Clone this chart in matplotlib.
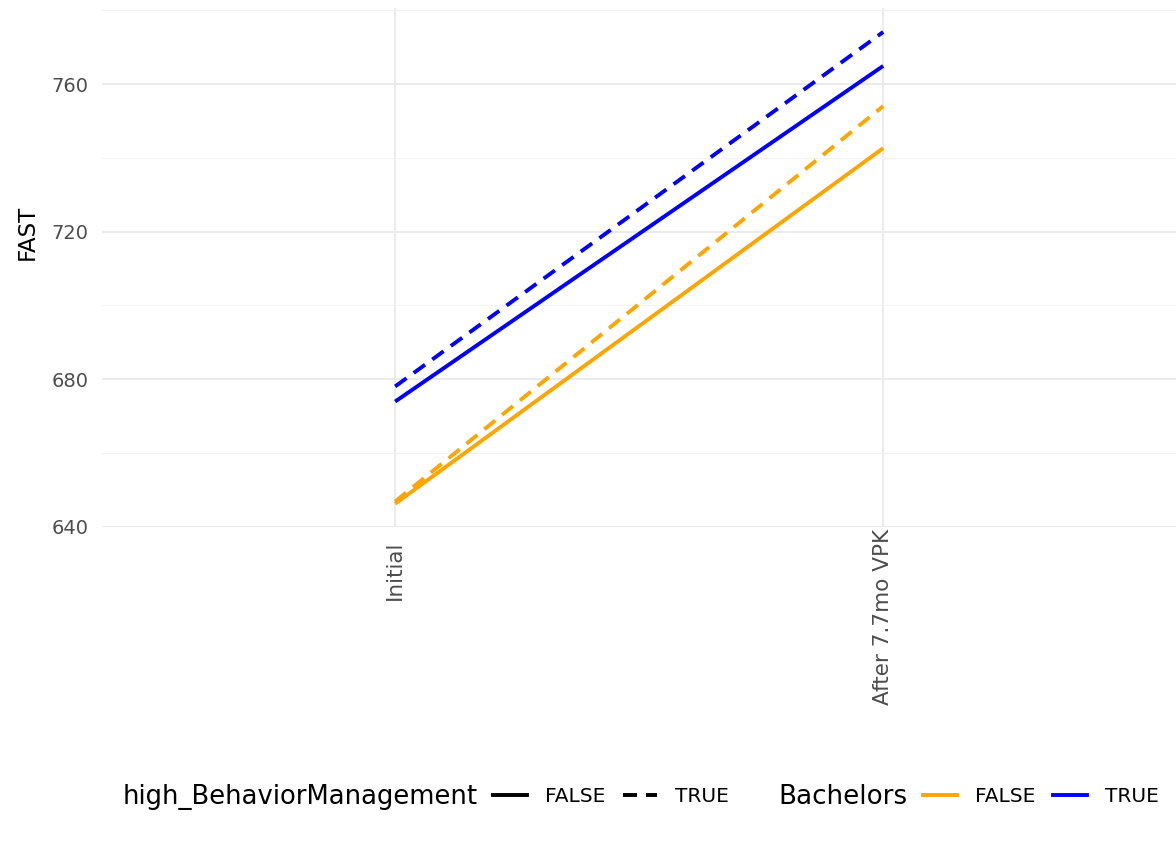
import matplotlib.pyplot as plt
from matplotlib.lines import Line2D
from matplotlib.transforms import ScaledTranslation

# datos
tiempos = ['Initial', 'After 7.7mo VPK']
bach_false_bm_false = [646.2, 742.6]
bach_false_bm_true = [646.8, 754.0]
bach_true_bm_false = [673.9, 764.9]
bach_true_bm_true = [678.0, 774.1]

colores = {'FALSE': '#FFA500', 'TRUE': '#0000FF'}
estilos = {'FALSE': '-', 'TRUE': (0, (3.6, 2.3))}

series = [
    ('FALSE', 'FALSE', bach_false_bm_false),
    ('FALSE', 'TRUE', bach_false_bm_true),
    ('TRUE', 'FALSE', bach_true_bm_false),
    ('TRUE', 'TRUE', bach_true_bm_true),
]

fig = plt.figure(figsize=(11.76, 8.41), dpi=100)
ax = fig.add_axes([0.087, 0.373, 0.913, 0.617])

x = list(range(len(tiempos)))
for bach, bm, vals in series:
    ax.plot(x, vals, color=colores[bach], linestyle=estilos[bm], linewidth=2.8,
            solid_capstyle='butt', dash_capstyle='butt')

ax.set_xlim(-0.6, 1.6)
ymin = min(min(v) for _, _, v in series)
ymax = max(max(v) for _, _, v in series)
pad = (ymax - ymin) * 0.05
ax.set_ylim(ymin - pad, ymax + pad)

ax.set_xticks(x)
ax.set_xticklabels(tiempos, rotation=90, fontsize=15.5, color='#4D4D4D')
ax.set_yticks([640, 680, 720, 760])
ax.set_yticks([660, 700, 740, 780], minor=True)
ax.tick_params(axis='y', labelsize=14, colors='#4D4D4D', length=0, pad=10, which='both')
ax.tick_params(axis='x', length=0, pad=1)
ax.set_ylabel('FAST', fontsize=16.5)
ax.yaxis.set_label_coords(-0.059, 0.569)

ax.grid(True, which='major', color='#EBEBEB', linewidth=1.4)
ax.grid(True, which='minor', axis='y', color='#F3F3F3', linewidth=0.8)
ax.set_axisbelow(True)
for s in ax.spines.values():
    s.set_visible(False)

# ajuste tipo hjust=0.9 en las etiquetas rotadas
fig.canvas.draw()
r = fig.canvas.get_renderer()
etiquetas = ax.get_xticklabels()
altos = [t.get_window_extent(r).height for t in etiquetas]
hmax = max(altos)
for t, h in zip(etiquetas, altos):
    dy = -0.106 * (hmax - h) / 100.0
    t.set_transform(t.get_transform() + ScaledTranslation(0, dy, fig.dpi_scale_trans))

# leyendas abajo
ly = 1 - 797 / 841
fig.text(123 / 1176, ly, 'high_BehaviorManagement', fontsize=18.6, va='center', ha='left')
h1 = [Line2D([], [], color='black', linestyle=estilos[k], linewidth=2.8) for k in ['FALSE', 'TRUE']]
fig.legend(h1, ['FALSE', 'TRUE'], loc='center left', bbox_to_anchor=(493 / 1176, ly), ncol=2,
           frameon=False, fontsize=14.5, handlelength=1.7, columnspacing=0.85, handletextpad=0.9,
           borderpad=0, borderaxespad=0)

fig.text(778 / 1176, ly, 'Bachelors', fontsize=18.8, va='center', ha='left')
h2 = [Line2D([], [], color=colores[k], linewidth=2.8) for k in ['FALSE', 'TRUE']]
fig.legend(h2, ['FALSE', 'TRUE'], loc='center left', bbox_to_anchor=(923 / 1176, ly), ncol=2,
           frameon=False, fontsize=14.5, handlelength=1.7, columnspacing=0.85, handletextpad=0.9,
           borderpad=0, borderaxespad=0)

fig.savefig('out.png', dpi=100)
